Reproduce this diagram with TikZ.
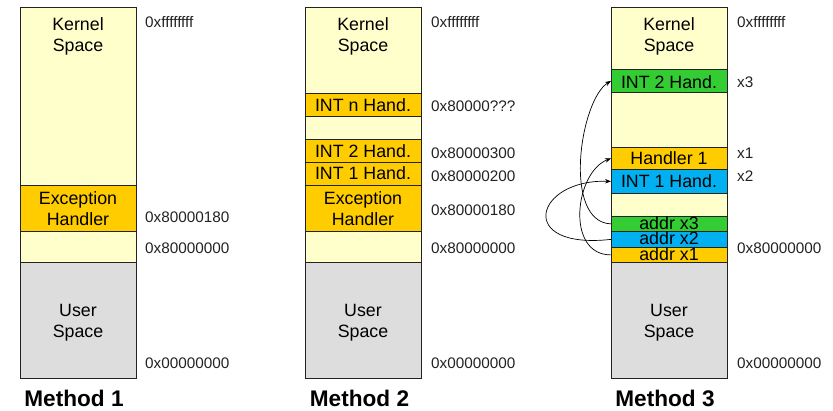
\documentclass[tikz,border=0pt]{standalone}
\usepackage{fontspec}
\setmainfont{Liberation Sans}
\usetikzlibrary{arrows.meta}
\definecolor{kern}{HTML}{FFFFCC}
\definecolor{orng}{HTML}{FFCC00}
\definecolor{grn}{HTML}{33CC33}
\definecolor{blu}{HTML}{00B0F0}
\definecolor{usr}{HTML}{DDDDDD}
\definecolor{edge}{HTML}{222222}
\tikzset{
  region/.style={draw=edge, line width=0.8pt, minimum width=116pt, inner sep=0pt, anchor=north west},
  boxtxt/.style={font=\fontsize{17.8}{21}\selectfont, inner sep=0pt, anchor=base, text=black},
  addrtxt/.style={boxtxt, text height=11pt, text depth=0pt},
  lbl/.style={font=\fontsize{15.3}{18}\selectfont, inner sep=0pt, anchor=base west, text=edge},
  ttl/.style={font=\fontsize{22.6}{26}\selectfont\bfseries, inner sep=0pt, anchor=base, text=black},
  link/.style={draw=black, line width=0.7pt, -{Stealth[length=6pt,width=4.5pt]}}
}
\begin{document}
\begin{tikzpicture}[x=1pt,y=-1pt]
\useasboundingbox (0,0) rectangle (833,411);
% ---------- Method 1
\node[region, fill=kern, minimum height=255pt] (k1) at (20,7) {};
\node[region, fill=orng, minimum height=46pt] (e1) at (20,185) {};
\node[region, fill=usr, minimum height=116pt] (u1) at (20,262) {};
\node[boxtxt] (k1a) at (78,31) {Kernel};
\node[boxtxt] (k1b) at (78,52) {Space};
\node[boxtxt] (e1a) at (78,205) {Exception};
\node[boxtxt] (e1b) at (78,226) {Handler};
\node[boxtxt] (u1a) at (78,317) {User};
\node[boxtxt] (u1b) at (78,338) {Space};
\node[lbl] (a1a) at (145,28) {0xffffffff};
\node[lbl] (a1b) at (145,223) {0x80000180};
\node[lbl] (a1c) at (145,254) {0x80000000};
\node[lbl] (a1d) at (145,369) {0x00000000};
\node[ttl] (t1) at (74,407) {Method 1};
% ---------- Method 2
\node[region, fill=kern, minimum height=255pt] (k2) at (305,7) {};
\node[region, fill=orng, minimum height=23pt] (n2) at (305,93) {};
\node[region, fill=orng, minimum height=23pt] (i22) at (305,139) {};
\node[region, fill=orng, minimum height=23pt] (i12) at (305,162) {};
\node[region, fill=orng, minimum height=46pt] (e2) at (305,185) {};
\node[region, fill=usr, minimum height=116pt] (u2) at (305,262) {};
\node[boxtxt] (k2a) at (363,31) {Kernel};
\node[boxtxt] (k2b) at (363,52) {Space};
\node[boxtxt] (n2t) at (363,111.5) {INT n Hand.};
\node[boxtxt] (i22t) at (363,157.5) {INT 2 Hand.};
\node[boxtxt] (i12t) at (363,180) {INT 1 Hand.};
\node[boxtxt] (e2a) at (363,205) {Exception};
\node[boxtxt] (e2b) at (363,226) {Handler};
\node[boxtxt] (u2a) at (363,317) {User};
\node[boxtxt] (u2b) at (363,338) {Space};
\node[lbl] (a2a) at (431,28) {0xffffffff};
\node[lbl] (a2b) at (431,112) {0x80000???};
\node[lbl] (a2c) at (431,159) {0x80000300};
\node[lbl] (a2d) at (431,182) {0x80000200};
\node[lbl] (a2e) at (431,216) {0x80000180};
\node[lbl] (a2f) at (431,254) {0x80000000};
\node[lbl] (a2g) at (431,369) {0x00000000};
\node[ttl] (t2) at (359.5,407) {Method 2};
% ---------- Method 3
\node[region, fill=kern, minimum height=255pt] (k3) at (611,7) {};
\node[region, fill=grn, minimum height=23pt] (i23) at (611,69) {};
\node[region, fill=orng, minimum height=22pt] (h13) at (611,147) {};
\node[region, fill=blu, minimum height=24pt] (i13) at (611,169) {};
\node[region, fill=grn, minimum height=15pt] (ax3) at (611,216) {};
\node[region, fill=blu, minimum height=16pt] (ax2) at (611,231) {};
\node[region, fill=orng, minimum height=15pt] (ax1) at (611,247) {};
\node[region, fill=usr, minimum height=116pt] (u3) at (611,262) {};
\node[boxtxt] (k3a) at (669,31) {Kernel};
\node[boxtxt] (k3b) at (669,52) {Space};
\node[boxtxt] (i23t) at (669,89) {INT 2 Hand.};
\node[boxtxt] (h13t) at (669,165) {Handler 1};
\node[boxtxt] (i13t) at (669,187.5) {INT 1 Hand.};
\node[addrtxt] (ax3t) at (669,230) {addr x3};
\node[addrtxt] (ax2t) at (669,245) {addr x2};
\node[addrtxt] (ax1t) at (669,261) {addr x1};
\node[boxtxt] (u3a) at (669,317) {User};
\node[boxtxt] (u3b) at (669,338) {Space};
\node[lbl] (a3a) at (737,28) {0xffffffff};
\node[lbl] (a3b) at (737,88) {x3};
\node[lbl] (a3c) at (737,159) {x1};
\node[lbl] (a3d) at (737,181.5) {x2};
\node[lbl] (a3e) at (737,254) {0x80000000};
\node[lbl] (a3f) at (737,369) {0x00000000};
\node[ttl] (t3) at (665,407) {Method 3};
% ---------- links
\draw[link] (ax3.west) .. controls (562,222) and (580,100) .. (i23.west);
\draw[link] (ax1.west) .. controls (565,255) and (575,172) .. (h13.west);
\draw[link] (ax2.west) .. controls (515,250) and (535,179) .. (i13.west);
\end{tikzpicture}
\end{document}
